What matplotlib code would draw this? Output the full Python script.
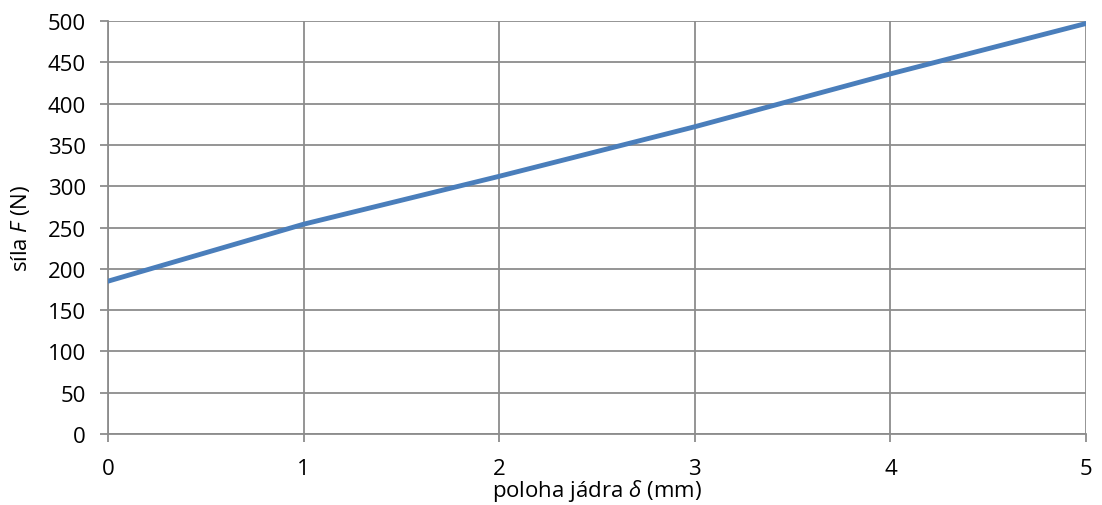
import matplotlib
matplotlib.use('Agg')
import matplotlib.pyplot as plt

plt.rcParams['font.family'] = ['Open Sans', 'DejaVu Sans']
plt.rcParams['mathtext.fontset'] = 'custom'
plt.rcParams['mathtext.rm'] = 'Open Sans'
plt.rcParams['mathtext.it'] = 'Open Sans:italic'

# poloha jádra (mm) a síla (N)
poloha = [0, 1, 2, 3, 4, 5]
sila = [185, 254, 312, 372, 436, 497]

x_ticks = [0, 1, 2, 3, 4, 5]
y_ticks = list(range(0, 501, 50))

grid_col = '#8c8c8c'

fig = plt.figure(figsize=(11.02, 5.06), dpi=100)
ax = fig.add_axes([0.098, 0.1403, 0.8875, 0.8162])

ax.plot(poloha, sila, color='#4a7ebb', linewidth=3.5, solid_capstyle='round', zorder=3)

ax.set_xlim(0, 5)
ax.set_ylim(0, 500)
ax.set_xticks(x_ticks)
ax.set_yticks(y_ticks)
ax.grid(True, color=grid_col, linewidth=1.3)

for side in ['top', 'right']:
    ax.spines[side].set_visible(False)
for side in ['left', 'bottom']:
    ax.spines[side].set_color(grid_col)
    ax.spines[side].set_linewidth(1.3)

ax.tick_params(axis='both', colors=grid_col, labelcolor='black', labelsize=16,
               length=6, width=1.3, direction='out')
ax.tick_params(axis='x', pad=11)
ax.tick_params(axis='y', pad=10)

ax.set_xlabel(r'poloha jádra $\delta$ (mm)', fontsize=16, labelpad=-1)
ax.set_ylabel(r'síla $F$ (N)', fontsize=16, labelpad=11)

fig.savefig('out.png', dpi=100, facecolor='white')
